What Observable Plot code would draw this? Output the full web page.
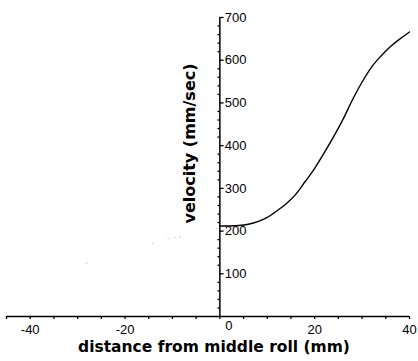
<!DOCTYPE html>
<html>
<head>
<meta charset="utf-8">
<script src="https://cdn.jsdelivr.net/npm/d3@7"></script>
<script src="https://cdn.jsdelivr.net/npm/@observablehq/plot@0.6"></script>
<style>
  html, body { margin: 0; padding: 0; background: #fff; }
  svg { display: block; }
</style>
</head>
<body>
<div id="chart"></div>
<script>
// Data
const distance = [0, 2, 4, 6, 8, 10, 12, 14, 16, 18, 20, 22, 24, 26, 28, 30, 32, 34, 36, 38, 40];
const velocity = [212, 212, 213, 216, 222, 232, 247, 264, 286, 316, 347, 383, 421, 462, 508, 549, 584, 610, 632, 650, 666];

// faint scanner specks on the left side
const speckX = [-28.1, -14.1, -10.9, -9.5, -8.4, -0.6];
const speckY = [124, 171, 183, 185, 187, 206];

const xLabelTicks = [-40, -20, 0, 20, 40];
const xMinorTicks = [-45, -40, -35, -30, -25, -20, -15, -10, -5, 0, 5, 10, 15, 20, 25, 30, 35, 40];
const yLabelTicks = [100, 200, 300, 400, 500, 600, 700];
const yMinorTicks = d3.range(0, 701, 20).filter(v => v % 100 !== 0);

const xTitle = "distance from middle roll (mm)";
const yTitle = "velocity (mm/sec)";

const curve = distance.map((d, i) => ({x: d, y: velocity[i]}));
const specks = speckX.map((d, i) => ({x: d, y: speckY[i]}));

const tickFont = "Liberation Sans, Arial, sans-serif";
const titleFont = "DejaVu Sans, sans-serif";

const chart = Plot.plot({
  width: 418,
  height: 361,
  marginLeft: 6,
  marginRight: 9,
  marginTop: 17,
  marginBottom: 45,
  style: {background: "#fff", color: "#000"},
  x: {domain: [-45, 40], axis: null, label: null},
  y: {domain: [0, 700], axis: null, label: null},
  marks: [
    // x axis line and ticks
    Plot.ruleY([0], {stroke: "#000", strokeWidth: 1.5}),
    Plot.axisX({ticks: xMinorTicks, tickSize: 3, tickFormat: () => "", label: null, stroke: "#000", strokeWidth: 1.3}),
    Plot.text(xLabelTicks.filter(d => d !== 0), {x: d => d, y: 0, dy: 13, text: d => String(d), fontSize: 13, fontFamily: tickFont, fill: "#000"}),
    Plot.text(xLabelTicks.filter(d => d === 0), {x: d => d, y: 0, dy: 9, dx: 9, text: d => String(d), fontSize: 13, fontFamily: tickFont, fill: "#000"}),
    // y axis at x = 0
    Plot.ruleX([0], {stroke: "#000", strokeWidth: 1.5}),
    Plot.ruleY(yLabelTicks, {x1: 0, x2: 0.9, stroke: "#000", strokeWidth: 1.3}),
    Plot.ruleY(yMinorTicks, {x1: -0.4, x2: 0, stroke: "#000", strokeWidth: 1.3}),
    Plot.text(yLabelTicks, {x: 0, y: d => d, dx: 5, textAnchor: "start", text: d => String(d), fontSize: 13, fontFamily: tickFont, fill: "#000"}),
    // faint specks
    Plot.dot(specks, {x: "x", y: "y", r: 0.8, fill: "#c8c8c8", stroke: null}),
    // curve
    Plot.line(curve, {x: "x", y: "y", stroke: "#000", strokeWidth: 1.4, curve: "monotone-x"}),
    // titles
    Plot.text([xTitle], {frameAnchor: "bottom", dx: 6, dy: 35, text: d => d, fontSize: 15.5, fontWeight: "bold", fontFamily: titleFont, fill: "#000"}),
    Plot.text([yTitle], {x: () => -6.3, y: () => 405, rotate: -90, textAnchor: "middle", lineAnchor: "middle", text: d => d, fontSize: 16, fontWeight: "bold", fontFamily: titleFont, fill: "#000"})
  ]
});
document.getElementById("chart").appendChild(chart);
</script>
</body>
</html>
